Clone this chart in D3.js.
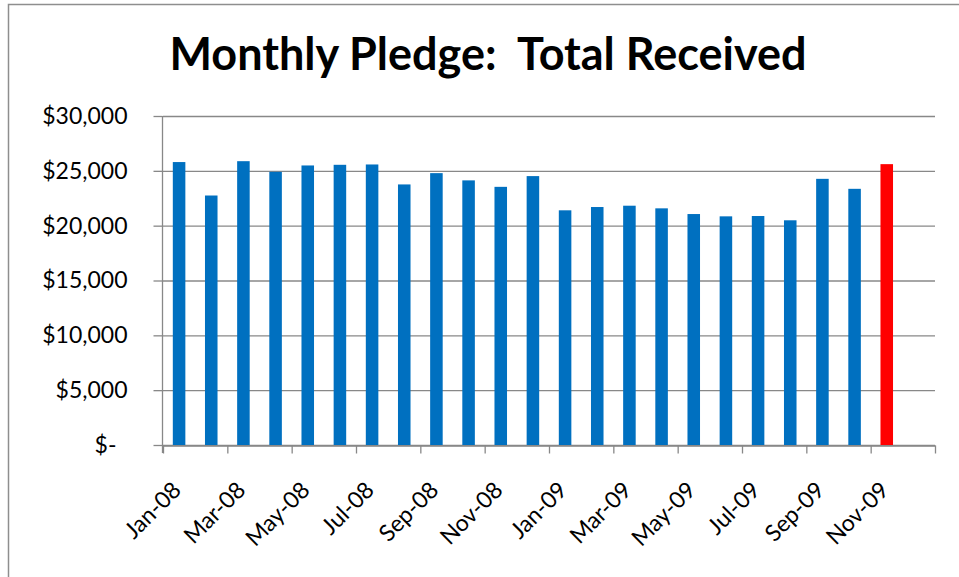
<!DOCTYPE html>
<html>
<head>
<meta charset="utf-8">
<script src="https://cdn.jsdelivr.net/npm/d3@7"></script>
<style>
  body { margin: 0; background: #fff; }
  svg { display: block; }
</style>
</head>
<body>
<script>
(function() {

    // Monthly pledge totals, Jan-08 through Nov-09 (last month highlighted)

    var width = 959,
        height = 577;

    var months = ["Jan-08", "Feb-08", "Mar-08", "Apr-08", "May-08", "Jun-08",
                  "Jul-08", "Aug-08", "Sep-08", "Oct-08", "Nov-08", "Dec-08",
                  "Jan-09", "Feb-09", "Mar-09", "Apr-09", "May-09", "Jun-09",
                  "Jul-09", "Aug-09", "Sep-09", "Oct-09", "Nov-09"];

    var totals = [25800, 22750, 25880, 24910, 25490, 25550,
                  25580, 23760, 24790, 24130, 23540, 24520,
                  21400, 21700, 21820, 21580, 21060, 20850,
                  20880, 20490, 24270, 23360, 25610];

    var yTicks = [0, 5000, 10000, 15000, 20000, 25000, 30000];

    // the axis runs one month past the data (Dec-09 slot stays empty)
    var slots = 24;
    var highlight = "Nov-09";

    var plot = {left: 163, right: 935, top: 116, bottom: 445};

    var svg = d3.select("body")
                .append("svg")
                .attr("width", width)
                .attr("height", height);

    // outer frame, runs off the right and bottom edges
    svg.append("rect")
        .attr("x", 8.5)
        .attr("y", 4.5)
        .attr("width", 980)
        .attr("height", 620)
        .attr("fill", "none")
        .attr("stroke", "#8e8e8e")
        .attr("stroke-width", 1.5);

    svg.append("text")
        .attr("x", 488)
        .attr("y", 70)
        .attr("text-anchor", "middle")
        .style("white-space", "pre")
        .style("font-family", "Lato, 'Open Sans', sans-serif")
        .style("font-weight", "bold")
        .style("font-size", "45px")
        .text("Monthly Pledge:  Total Received");

    var x = d3.scaleLinear()
        .domain([0, slots])
        .range([plot.left, plot.right]);

    var y = d3.scaleLinear()
        .domain([0, 30000])
        .range([plot.bottom, plot.top]);

    var slotW = x(1) - x(0);
    var barW = slotW * 0.39;

    // gridlines
    svg.append("g")
        .attr("transform", "translate(" + plot.left + ",0)")
        .call(d3.axisLeft(y).tickValues(yTicks).tickSize(-(plot.right - plot.left)).tickFormat(""))
        .call(function(g) {
            g.select(".domain").remove();
            g.selectAll("line").attr("stroke", "#888").attr("stroke-width", 1.3);
        });

    // y axis
    var yAxis = svg.append("g")
        .attr("transform", "translate(" + (plot.left - 0.5) + ",0)")
        .call(d3.axisLeft(y)
            .tickValues(yTicks)
            .tickSize(9)
            .tickPadding(26)
            .tickFormat(function(d) {
                return d === 0 ? "$-" : "$" + d3.format(",")(d);
            }));

    yAxis.selectAll("text")
        .style("font-family", "Lato, 'Open Sans', sans-serif")
        .style("font-size", "23px")
        .attr("fill", "#000")
        .attr("dx", function(d) { return d === 0 ? -11 : 0; });

    // bars
    svg.selectAll("rect.bar")
        .data(months)
        .enter()
        .append("rect")
        .attr("class", "bar")
        .attr("x", function(d, i) { return x(i + 0.5) - barW / 2; })
        .attr("width", barW)
        .attr("y", function(d, i) { return y(totals[i]); })
        .attr("height", function(d, i) { return y(0) - y(totals[i]); })
        .attr("fill", function(d) { return d === highlight ? "#ff0000" : "#0070c0"; });

    // x axis: a tick every other month, labels on the even slots
    var xTickVals = d3.range(0, slots + 1, 2);
    var xAxis = svg.append("g")
        .attr("transform", "translate(0," + (plot.bottom + 0.5) + ")")
        .call(d3.axisBottom(x)
            .tickValues(xTickVals)
            .tickSize(8)
            .tickSizeOuter(0)
            .tickFormat(function(d) { return months[d] || ""; }));

    xAxis.selectAll("text")
        .style("font-family", "Lato, 'Open Sans', sans-serif")
        .style("font-size", "23px")
        .attr("fill", "#000")
        .attr("text-anchor", "end")
        .attr("dy", null)
        .attr("y", null)
        .attr("transform", "translate(19,46) rotate(-45)");

    svg.selectAll(".domain, .tick line")
        .attr("stroke", "#888")
        .attr("stroke-width", 1.3);

    yAxis.select(".domain").remove();
    svg.append("line")
        .attr("x1", plot.left - 0.5)
        .attr("x2", plot.left - 0.5)
        .attr("y1", plot.top)
        .attr("y2", plot.bottom + 8)
        .attr("stroke", "#888")
        .attr("stroke-width", 1.3);

})();
</script>
</body>
</html>
